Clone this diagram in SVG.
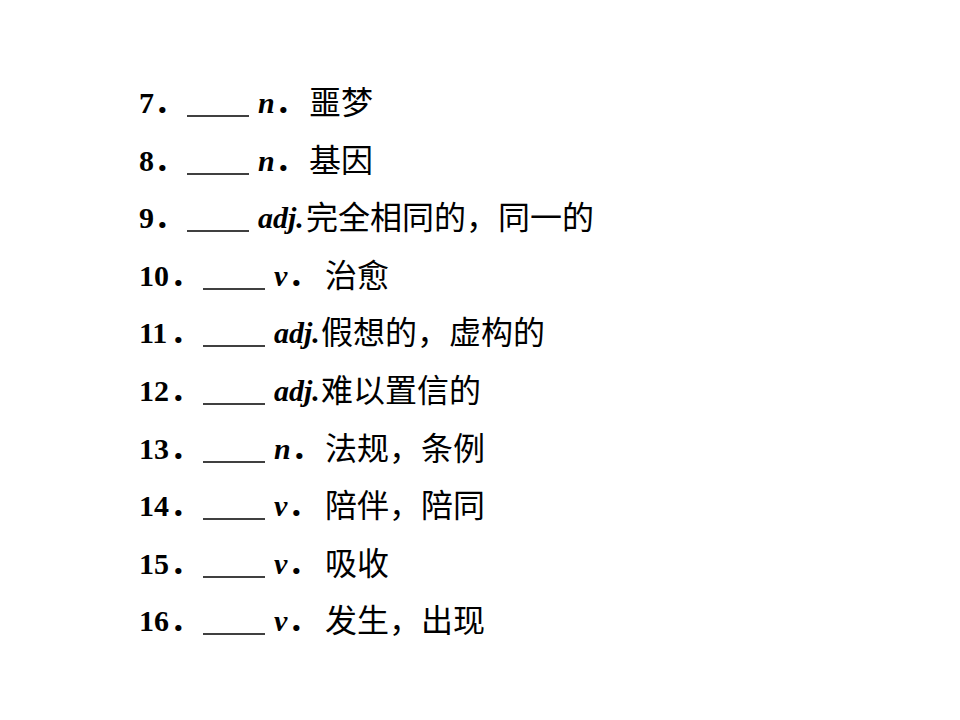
<svg xmlns="http://www.w3.org/2000/svg" width="960" height="720" viewBox="0 0 960 720">
<style>
.num{font-family:"Liberation Serif",serif;font-weight:bold;font-size:30px;fill:#000}
.dot{font-family:"Noto Sans CJK SC",sans-serif;font-weight:bold;font-size:30px;fill:#000}
.pos{font-family:"Liberation Serif",serif;font-weight:bold;font-style:italic;font-size:30px;fill:#000}
.cn{font-family:"Noto Sans CJK SC","Liberation Serif",sans-serif;font-size:32px;fill:#000}
.blank{stroke:#000;stroke-width:1.6}
</style>
<rect width="960" height="720" fill="#fff"/>
<g id="item7">
<text class="num" x="139" y="113">7</text><text class="dot" x="154" y="113">．</text>
<line class="blank" x1="187" y1="116" x2="249" y2="116"/>
<text class="pos" x="258" y="113">n</text><text class="dot" x="275" y="113">．</text>
<text class="cn" x="309" y="114">噩梦</text>
</g>
<g id="item8">
<text class="num" x="139" y="171">8</text><text class="dot" x="154" y="171">．</text>
<line class="blank" x1="187" y1="174" x2="249" y2="174"/>
<text class="pos" x="258" y="171">n</text><text class="dot" x="275" y="171">．</text>
<text class="cn" x="309" y="172">基因</text>
</g>
<g id="item9">
<text class="num" x="139" y="228">9</text><text class="dot" x="154" y="228">．</text>
<line class="blank" x1="187" y1="231" x2="249" y2="231"/>
<text class="pos" x="258" y="228">adj.</text>
<text class="cn" x="306" y="229">完全相同的，同一的</text>
</g>
<g id="item10">
<text class="num" x="139" y="286">10</text><text class="dot" x="170" y="286">．</text>
<line class="blank" x1="203" y1="289" x2="265" y2="289"/>
<text class="pos" x="274" y="286">v</text><text class="dot" x="288" y="286">．</text>
<text class="cn" x="325" y="287">治愈</text>
</g>
<g id="item11">
<text class="num" x="139" y="343">11</text><text class="dot" x="170" y="343">．</text>
<line class="blank" x1="203" y1="346" x2="265" y2="346"/>
<text class="pos" x="274" y="343">adj.</text>
<text class="cn" x="321" y="344">假想的，虚构的</text>
</g>
<g id="item12">
<text class="num" x="139" y="401">12</text><text class="dot" x="170" y="401">．</text>
<line class="blank" x1="203" y1="404" x2="265" y2="404"/>
<text class="pos" x="274" y="401">adj.</text>
<text class="cn" x="321" y="402">难以置信的</text>
</g>
<g id="item13">
<text class="num" x="139" y="459">13</text><text class="dot" x="170" y="459">．</text>
<line class="blank" x1="203" y1="462" x2="265" y2="462"/>
<text class="pos" x="274" y="459">n</text><text class="dot" x="291" y="459">．</text>
<text class="cn" x="325" y="460">法规，条例</text>
</g>
<g id="item14">
<text class="num" x="139" y="516">14</text><text class="dot" x="170" y="516">．</text>
<line class="blank" x1="203" y1="519" x2="265" y2="519"/>
<text class="pos" x="274" y="516">v</text><text class="dot" x="288" y="516">．</text>
<text class="cn" x="325" y="517">陪伴，陪同</text>
</g>
<g id="item15">
<text class="num" x="139" y="574">15</text><text class="dot" x="170" y="574">．</text>
<line class="blank" x1="203" y1="577" x2="265" y2="577"/>
<text class="pos" x="274" y="574">v</text><text class="dot" x="288" y="574">．</text>
<text class="cn" x="325" y="575">吸收</text>
</g>
<g id="item16">
<text class="num" x="139" y="631">16</text><text class="dot" x="170" y="631">．</text>
<line class="blank" x1="203" y1="634" x2="265" y2="634"/>
<text class="pos" x="274" y="631">v</text><text class="dot" x="288" y="631">．</text>
<text class="cn" x="325" y="632">发生，出现</text>
</g>
<g id="connectors"/>
</svg>
